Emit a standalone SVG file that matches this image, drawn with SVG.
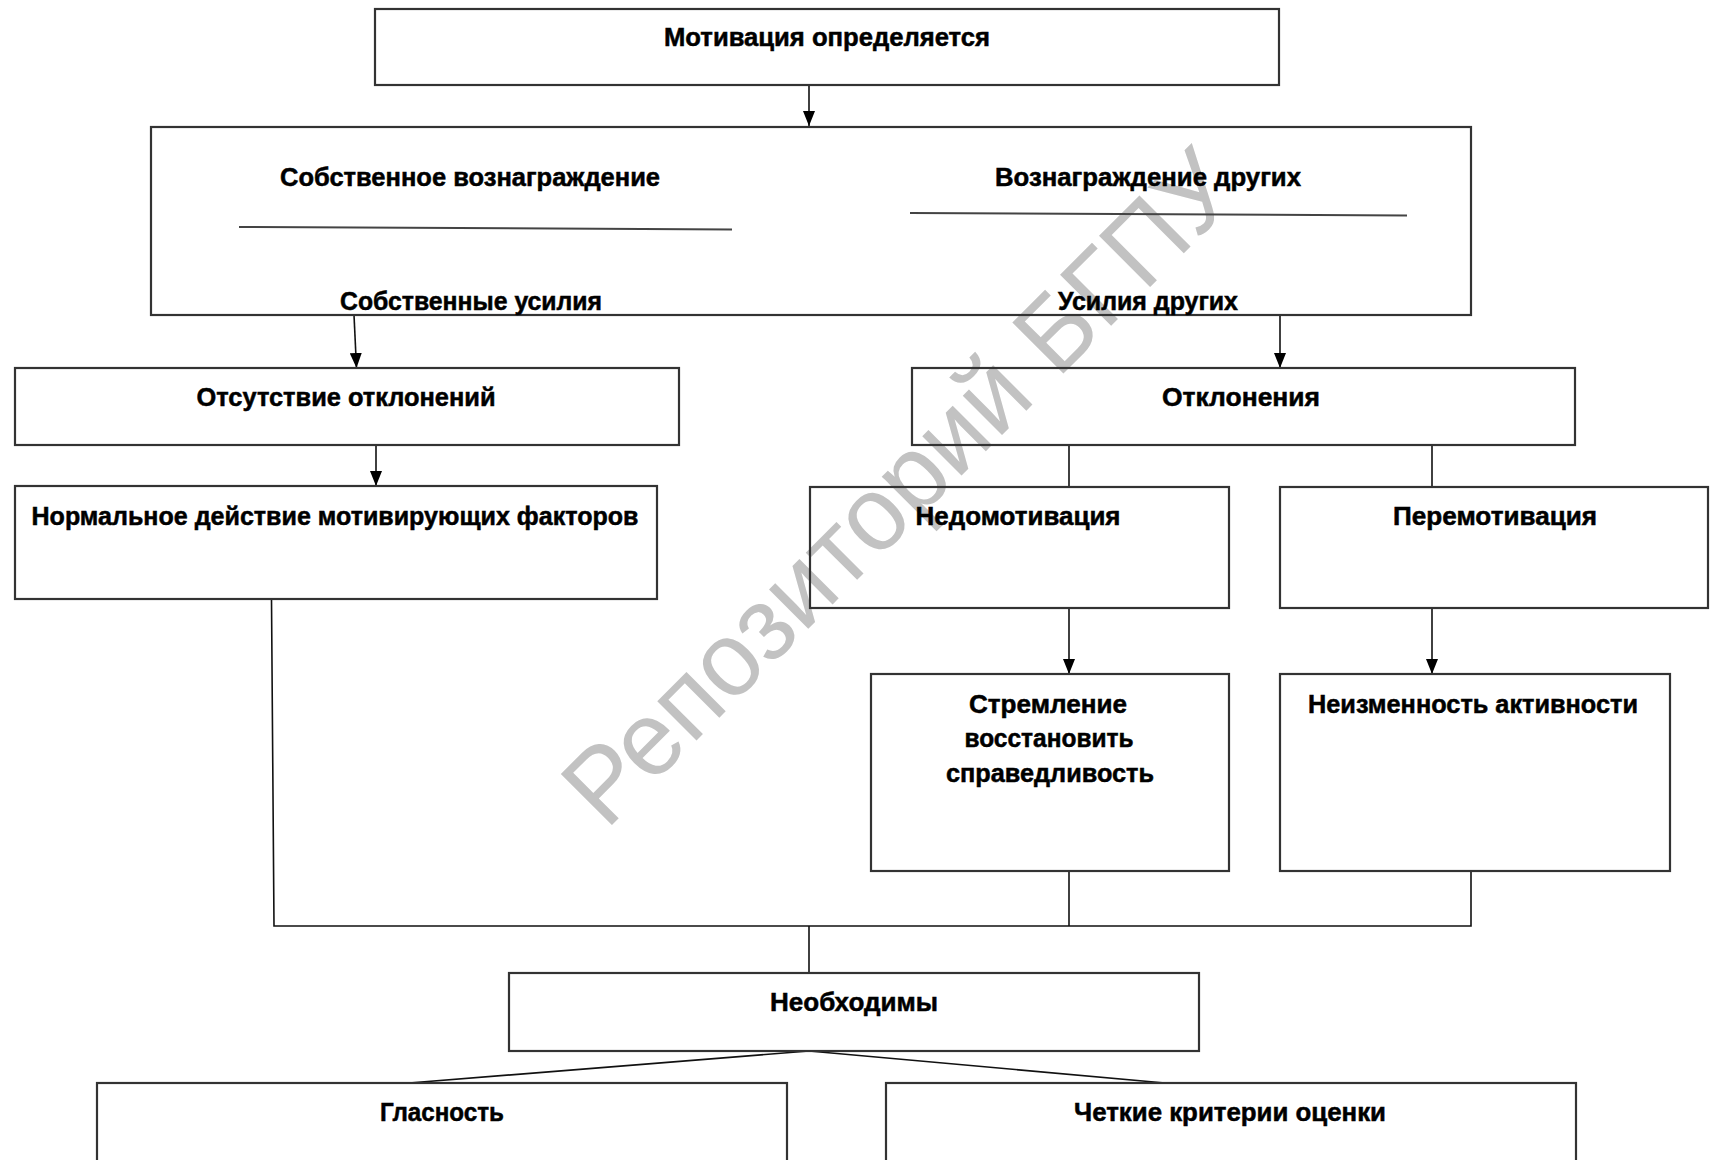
<svg xmlns="http://www.w3.org/2000/svg" width="1710" height="1160" viewBox="0 0 1710 1160">
<style>
.box{fill:none;stroke:#333;stroke-width:2.2}
.ln{fill:none;stroke:#111;stroke-width:1.6}
.sep{fill:none;stroke:#444;stroke-width:2}
.t{font-family:"Liberation Sans",Arial,sans-serif;font-weight:bold;font-size:25px;fill:#000;stroke:#000;stroke-width:0.5;text-anchor:middle}
.wm{font-family:"Liberation Sans",Arial,sans-serif;font-size:105px;fill:#c2c2c2}
</style>
<defs>
<marker id="arr" viewBox="0 0 15 12" refX="15" refY="6" markerWidth="15" markerHeight="12" markerUnits="userSpaceOnUse" orient="auto">
<path d="M0,0 L15,6 L0,12 z" fill="#000"/>
</marker>
</defs>
<rect width="1710" height="1160" fill="#fff"/>
<g id="watermark">
<text class="wm" transform="translate(606,831) rotate(-45)" textLength="900" lengthAdjust="spacingAndGlyphs">Репозиторий БГПУ</text>
</g>
<g id="connectors">
<line class="ln" x1="809" y1="85" x2="809" y2="126" marker-end="url(#arr)"/>
<line class="ln" x1="354" y1="315" x2="356.5" y2="368" marker-end="url(#arr)"/>
<line class="ln" x1="1280" y1="315" x2="1280" y2="368" marker-end="url(#arr)"/>
<line class="ln" x1="376" y1="445" x2="376" y2="486" marker-end="url(#arr)"/>
<line class="ln" x1="1069" y1="445" x2="1069" y2="487"/>
<line class="ln" x1="1432" y1="445" x2="1432" y2="487"/>
<line class="ln" x1="1069" y1="608" x2="1069" y2="674" marker-end="url(#arr)"/>
<line class="ln" x1="1432" y1="608" x2="1432" y2="674" marker-end="url(#arr)"/>
<polyline class="ln" points="271.5,599 274,926 1471,926 1471,871"/>
<line class="ln" x1="1069" y1="871" x2="1069" y2="926"/>
<line class="ln" x1="809" y1="926" x2="809" y2="973"/>
<line class="ln" x1="809" y1="1051" x2="409" y2="1083" stroke-width="2"/>
<line class="ln" x1="809" y1="1051" x2="1165" y2="1083" stroke-width="2"/>
</g>
<g id="n-motivation">
<rect class="box" x="375" y="9" width="904" height="76"/>
<text class="t" x="827" y="46" textLength="326" lengthAdjust="spacingAndGlyphs">Мотивация определяется</text>
</g>
<g id="n-reward">
<rect class="box" x="151" y="127" width="1320" height="188"/>
<text class="t" x="470" y="186" textLength="380" lengthAdjust="spacingAndGlyphs">Собственное вознаграждение</text>
<line class="sep" x1="239" y1="227" x2="732" y2="229.5"/>
<text class="t" x="471" y="310" textLength="262" lengthAdjust="spacingAndGlyphs">Собственные усилия</text>
<text class="t" x="1148" y="186" textLength="306" lengthAdjust="spacingAndGlyphs">Вознаграждение других</text>
<line class="sep" x1="910" y1="213" x2="1407" y2="215.5"/>
<text class="t" x="1148" y="310" textLength="180" lengthAdjust="spacingAndGlyphs">Усилия других</text>
</g>
<g id="n-nodev">
<rect class="box" x="15" y="368" width="664" height="77"/>
<text class="t" x="346" y="406" textLength="299" lengthAdjust="spacingAndGlyphs">Отсутствие отклонений</text>
</g>
<g id="n-normal">
<rect class="box" x="15" y="486" width="642" height="113"/>
<text class="t" x="335" y="525" textLength="607" lengthAdjust="spacingAndGlyphs">Нормальное действие мотивирующих факторов</text>
</g>
<g id="n-dev">
<rect class="box" x="912" y="368" width="663" height="77"/>
<text class="t" x="1241" y="406" textLength="158" lengthAdjust="spacingAndGlyphs">Отклонения</text>
</g>
<g id="n-under">
<rect class="box" x="810" y="487" width="419" height="121"/>
<text class="t" x="1018" y="525" textLength="205" lengthAdjust="spacingAndGlyphs">Недомотивация</text>
</g>
<g id="n-over">
<rect class="box" x="1280" y="487" width="428" height="121"/>
<text class="t" x="1495" y="525" textLength="204" lengthAdjust="spacingAndGlyphs">Перемотивация</text>
</g>
<g id="n-justice">
<rect class="box" x="871" y="674" width="358" height="197"/>
<text class="t" x="1048" y="713" textLength="158" lengthAdjust="spacingAndGlyphs">Стремление</text>
<text class="t" x="1049" y="747" textLength="169" lengthAdjust="spacingAndGlyphs">восстановить</text>
<text class="t" x="1050" y="782" textLength="208" lengthAdjust="spacingAndGlyphs">справедливость</text>
</g>
<g id="n-same">
<rect class="box" x="1280" y="674" width="390" height="197"/>
<text class="t" x="1473" y="713" textLength="330" lengthAdjust="spacingAndGlyphs">Неизменность активности</text>
</g>
<g id="n-need">
<rect class="box" x="509" y="973" width="690" height="78"/>
<text class="t" x="854" y="1011" textLength="168" lengthAdjust="spacingAndGlyphs">Необходимы</text>
</g>
<g id="n-glas">
<rect class="box" x="97" y="1083" width="690" height="100"/>
<text class="t" x="442" y="1121" textLength="124" lengthAdjust="spacingAndGlyphs">Гласность</text>
</g>
<g id="n-criteria">
<rect class="box" x="886" y="1083" width="690" height="100"/>
<text class="t" x="1230" y="1121" textLength="312" lengthAdjust="spacingAndGlyphs">Четкие критерии оценки</text>
</g>
</svg>
